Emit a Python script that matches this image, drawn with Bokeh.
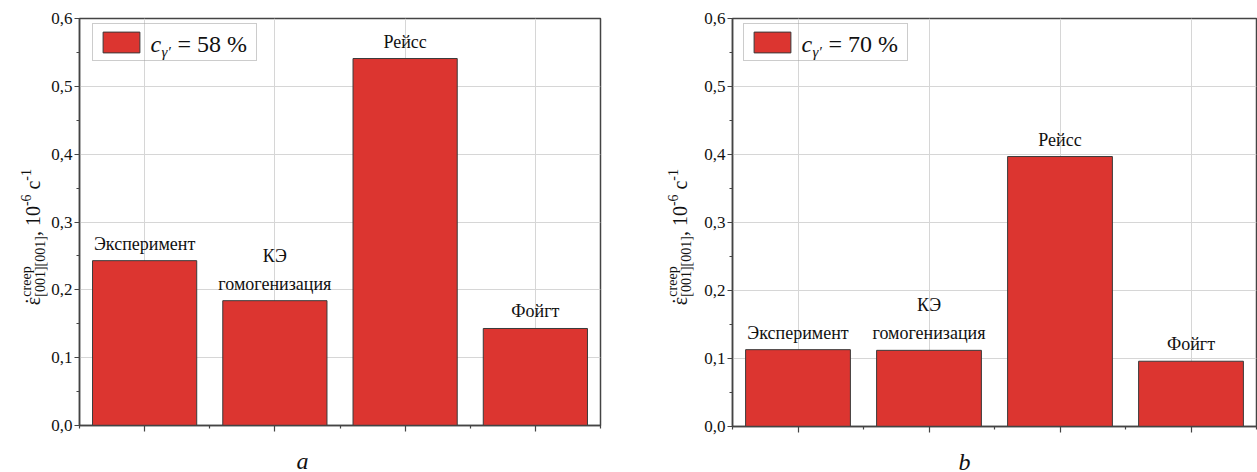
import math
from bokeh.plotting import figure
from bokeh.layouts import row
from bokeh.models import (Range1d, FixedTicker, Legend, LegendItem, Title, Grid,
                          ColumnDataSource)
from bokeh.core.properties import value
from bokeh.embed import file_html
from bokeh.resources import INLINE

# ---------------- data ----------------
categories = ["Эксперимент", "КЭ\nгомогенизация", "Рейсс", "Фойгт"]
x_pos = [1, 2, 3, 4]
rate_58 = [0.243, 0.184, 0.541, 0.143]   # c_γ' = 58 %
rate_70 = [0.113, 0.112, 0.397, 0.096]   # c_γ' = 70 %
y_ticks = [0.0, 0.1, 0.2, 0.3, 0.4, 0.5, 0.6]
y_tick_labels = ["0,0", "0,1", "0,2", "0,3", "0,4", "0,5", "0,6"]
y_minor = [0.05, 0.15, 0.25, 0.35, 0.45, 0.55]
x_minor = [0.5, 1.5, 2.5, 3.5, 4.5]
legend_values = ["58 %", "70 %"]
panel_letters = ["a", "b"]

SERIF = "Liberation Serif"
BAR = "#DC3530"
EDGE = "#3a3a3a"
AXIS = "#444444"
GRID = "#d6d6d6"
TXT = "#111111"
H = 472
MID = 0.3375  # distance baseline -> middle of the text box, in em


def ylabel_figure(width, base_x, start_py):
    """Narrow strip holding the rotated composite label
    ε̇^creep_[001][001], 10^-6 c^-1 (pixel coordinates of this strip)."""
    f = figure(frame_width=width, frame_height=H, min_border=0,
               min_border_left=0, min_border_right=0, min_border_top=0,
               min_border_bottom=0, x_range=Range1d(0, width),
               y_range=Range1d(0, H), output_backend="svg",
               toolbar_location=None)
    f.axis.visible = False
    f.grid.visible = False
    f.outline_line_color = None
    big, small = 20, 14
    sup_dx, sub_dx = -9, 5
    pieces = [  # text, size, baseline shift, width in em, advances?
        ("˙", big, 0, 0.44, False),
        ("ε", big, 0, 0.44, True),
        ("creep", small, sup_dx, 2.17, False),
        ("[001][001]", small, sub_dx, 4.33, True),
        (",", big, 0, 0.25, True),
        ("", big, 0, 0.25, True),
        ("10", big, 0, 1.0, True),
        ("-6", small, sup_dx, 0.83, True),
        ("", big, 0, 0.25, True),
        ("c", big, 0, 0.44, True),
        ("-1", small, sup_dx, 0.83, True),
    ]
    xs, ys, ts, ss = [], [], [], []
    py = start_py
    for t, s, sh, w, adv in pieces:
        wpx = w * s
        if t:
            xs.append(base_x + sh - MID * s)
            ys.append(H - (py - wpx / 2))
            ts.append(t)
            ss.append(f"{s}px")
        if adv:
            py -= wpx
    src = ColumnDataSource(dict(x=xs, y=ys, t=ts, s=ss))
    f.text(x="x", y="y", text="t", source=src, angle=math.pi / 2,
           text_align="center", text_baseline="middle",
           text_font=value(SERIF), text_font_size="s", text_color=TXT)
    return f


def make_panel(values, pct, letter, frame_w, frame_h, b_left, b_top, b_right,
               legend_dx, letter_offset):
    p = figure(frame_width=frame_w, frame_height=frame_h,
               min_border_left=b_left, min_border_right=b_right,
               min_border_top=b_top, min_border_bottom=H - b_top - frame_h,
               x_range=Range1d(0.5, 4.5), y_range=Range1d(0, 0.6),
               output_backend="svg", toolbar_location=None)
    p.background_fill_color = "white"
    p.border_fill_color = "white"
    p.outline_line_color = AXIS
    p.outline_line_width = 1.5

    src = ColumnDataSource(dict(x=x_pos, top=values, label=categories))
    r = p.vbar(x="x", top="top", width=0.8, source=src, fill_color=BAR,
               line_color=EDGE, line_width=1)
    p.text(x="x", y="top", text="label", source=src, text_font=value(SERIF),
           text_font_size="18px", text_align="center", text_baseline="bottom",
           y_offset=-7, text_line_height=1.4, text_color=TXT)

    # axes
    p.xaxis.ticker = FixedTicker(ticks=x_pos, minor_ticks=x_minor)
    p.xaxis.major_label_overrides = {k: "" for k in x_pos}
    p.xaxis.major_label_text_font_size = "0px"
    p.xaxis.major_label_standoff = 0
    p.xaxis.major_tick_out = 6
    p.xaxis.major_tick_in = 0
    p.xaxis.minor_tick_out = 3
    p.xaxis.minor_tick_in = 0
    p.yaxis.ticker = FixedTicker(ticks=y_ticks, minor_ticks=y_minor)
    p.yaxis.major_label_overrides = dict(zip(y_ticks, y_tick_labels))
    p.yaxis.major_tick_out = 5
    p.yaxis.major_tick_in = 0
    p.yaxis.minor_tick_out = 3
    p.yaxis.minor_tick_in = 0
    p.yaxis.major_label_text_font = SERIF
    p.yaxis.major_label_text_font_size = "17px"
    p.yaxis.major_label_text_color = TXT
    p.yaxis.major_label_standoff = 2
    for ax in (p.xaxis, p.yaxis):
        ax.axis_line_color = AXIS
        ax.axis_line_width = 1.5
        ax.major_tick_line_color = AXIS
        ax.minor_tick_line_color = AXIS
        ax.major_tick_line_width = 1.2
        ax.minor_tick_line_width = 1.2

    # legend geometry (pixels from the frame's top-left corner)
    leg_top, leg_h = 7, 36
    leg_bottom_val = 0.6 * (1 - (leg_top + leg_h) / frame_h)

    # vertical grid: the first line stops under the legend box
    p.xgrid.ticker = FixedTicker(ticks=x_pos[1:])
    g1 = Grid(dimension=0, ticker=FixedTicker(ticks=x_pos[:1]),
              bounds=(0, leg_bottom_val), grid_line_color=GRID, grid_line_width=1)
    p.add_layout(g1)
    p.ygrid.ticker = FixedTicker(ticks=y_ticks)
    p.xgrid.grid_line_color = GRID
    p.ygrid.grid_line_color = GRID

    leg = Legend(items=[LegendItem(label=" ", renderers=[r])],
                 location=(legend_dx, frame_h - leg_top - leg_h), margin=0,
                 padding=5, spacing=0, glyph_width=46, glyph_height=26,
                 label_width=101, label_height=26, label_standoff=6,
                 label_text_font_size="12px",
                 border_line_color="#9a9a9a", border_line_width=1,
                 background_fill_alpha=0)
    p.add_layout(leg)
    base_c, base_sub = 34, 39          # text baselines below the frame top
    lsrc = ColumnDataSource(dict(
        x=[0.5, 0.5, 0.5], y=[0.6, 0.6, 0.6],
        t=["c", "γ′", "= " + pct],
        s=["24px", "15px", "24px"],
        st=["italic", "italic", "normal"],
        dx=[legend_dx + 58, legend_dx + 69, legend_dx + 85],
        dy=[base_c - MID * 24, base_sub - MID * 15, base_c - MID * 24]))
    p.text(x="x", y="y", text="t", source=lsrc, x_offset="dx", y_offset="dy",
           text_font=value(SERIF), text_font_size="s", text_font_style="st",
           text_align="left", text_baseline="middle", text_color=TXT,
           level="overlay")

    p.add_layout(Title(text=letter, align="left", offset=letter_offset,
                       text_font=SERIF, text_font_style="italic",
                       text_font_size="24px", text_color=TXT, standoff=28),
                 "below")
    return p


yl_left = ylabel_figure(48, 39.5, 287)
left = make_panel(rate_58, legend_values[0], panel_letters[0], 521, 407, 31, 18, 40,
                  13, 217)
yl_right = ylabel_figure(56, 46, 287)
right = make_panel(rate_70, legend_values[1], panel_letters[1], 524, 408, 36, 17, 1,
                   11, 226)

p = row(yl_left, left, yl_right, right)
open("out.html", "w").write(file_html(p, INLINE))
